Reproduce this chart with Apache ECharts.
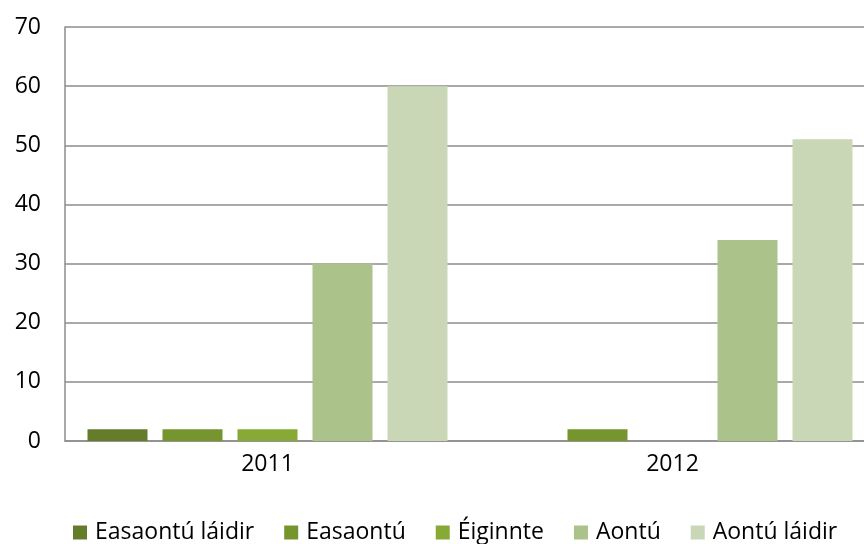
<!DOCTYPE html>
<html>
<head>
<meta charset="utf-8">
<script src="https://cdn.jsdelivr.net/npm/echarts@6/dist/echarts.min.js"></script>
<style>
  html, body { margin: 0; padding: 0; background: #fff; }
  #chart { width: 864px; height: 544px; }
</style>
</head>
<body>
<div id="chart"></div>
<script>
// Survey responses per year
const categories = ['2011', '2012'];
const seriesNames = ['Easaontú láidir', 'Easaontú', 'Éiginnte', 'Aontú', 'Aontú láidir'];
const easaontuLaidir = [2, 0];
const easaontu = [2, 2];
const eiginnte = [2, 0];
const aontu = [30, 34];
const aontuLaidir = [60, 51];
const yTicks = [0, 10, 20, 30, 40, 50, 60, 70];

const values = [easaontuLaidir, easaontu, eiginnte, aontu, aontuLaidir];
const colors = ['#657d2b', '#76952f', '#87a935', '#abc38b', '#c9d7b7'];
const font = '"Open Sans", "Noto Sans", sans-serif';

const chart = echarts.init(document.getElementById('chart'), null, { renderer: 'canvas' });
chart.setOption({
  animation: false,
  backgroundColor: '#ffffff',
  // plot area runs a little past the right edge of the canvas
  grid: { left: 65, top: 27, right: -11, bottom: 103, containLabel: false, outerBoundsMode: 'none' },
  legend: {
    data: seriesNames,
    bottom: 0,
    left: 73,
    padding: 0,
    itemWidth: 14,
    itemHeight: 14,
    itemGap: 30,
    icon: 'rect',
    textStyle: { fontFamily: font, fontSize: 23, color: '#000', padding: [0, 0, 0, 3] }
  },
  xAxis: {
    type: 'category',
    data: categories,
    axisLine: { lineStyle: { color: '#8c8c8c', width: 1.5 } },
    axisTick: { show: false },
    axisLabel: { fontFamily: font, fontSize: 23, color: '#000', margin: 12 }
  },
  yAxis: {
    type: 'value',
    min: yTicks[0],
    max: yTicks[yTicks.length - 1],
    interval: 10,
    axisLine: { show: true, lineStyle: { color: '#8c8c8c', width: 1.5 } },
    axisTick: { show: false },
    splitLine: { lineStyle: { color: '#8c8c8c', width: 1.5 } },
    axisLabel: { fontFamily: font, fontSize: 23, color: '#000', margin: 24 }
  },
  series: seriesNames.map((name, i) => ({
    name: name,
    type: 'bar',
    data: values[i],
    barWidth: 60,
    barGap: '25%',
    itemStyle: { color: colors[i] }
  }))
});
</script>
</body>
</html>
